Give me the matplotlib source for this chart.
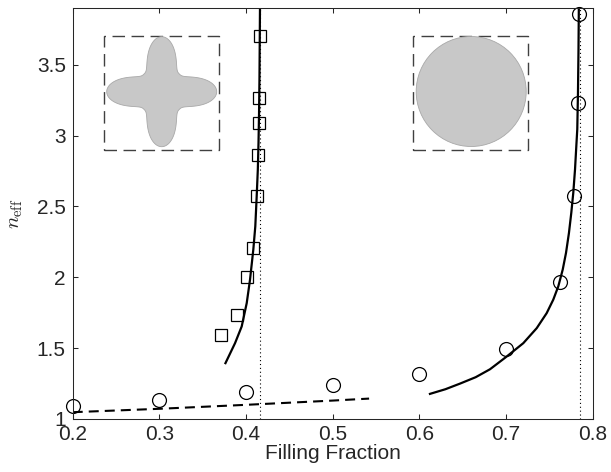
import numpy as np
import matplotlib
matplotlib.use("Agg")
import matplotlib.pyplot as plt
from matplotlib.patches import Rectangle, Circle, Polygon

plt.rcParams['font.family'] = ['Liberation Sans', 'DejaVu Sans']
plt.rcParams['mathtext.fontset'] = 'cm'

# ---------------- data ----------------
sq_x = [0.3707, 0.390, 0.4011, 0.4084, 0.4123, 0.4138, 0.4154, 0.4154, 0.4165]
sq_y = [1.594, 1.731, 2.002, 2.204, 2.572, 2.862, 3.088, 3.268, 3.699]

circ_x = [0.2, 0.3, 0.4, 0.5, 0.6, 0.7, 0.7626, 0.778, 0.7834, 0.7842]
circ_y = [1.092, 1.137, 1.189, 1.238, 1.316, 1.495, 1.967, 2.570, 3.233, 3.857]

left_fit_x = [0.3757, 0.3873, 0.395, 0.4008, 0.4046, 0.4084, 0.4107, 0.4123,
              0.4136, 0.4144, 0.4150, 0.4155, 0.4158, 0.4161]
left_fit_y = [1.387, 1.535, 1.653, 1.818, 1.983, 2.195, 2.360, 2.572,
              2.760, 2.950, 3.150, 3.400, 3.650, 3.900]

right_fit_x = [0.611, 0.630, 0.647, 0.665, 0.6815, 0.7008, 0.7199, 0.7354, 0.7469,
               0.7545, 0.7603, 0.7654, 0.7692, 0.7726, 0.7753, 0.7776, 0.7796,
               0.7811, 0.7822, 0.7830, 0.7836, 0.7840]
right_fit_y = [1.175, 1.210, 1.250, 1.295, 1.351, 1.441, 1.535, 1.641, 1.747,
               1.842, 1.936, 2.054, 2.172, 2.313, 2.455, 2.596, 2.761,
               2.926, 3.044, 3.300, 3.600, 3.900]

dash_x = [0.2, 0.3, 0.4, 0.5, 0.542]
dash_y = [1.048, 1.072, 1.100, 1.130, 1.144]

limit_x = [0.4165, 0.7857]

xticks = [0.2, 0.3, 0.4, 0.5, 0.6, 0.7, 0.8]
xticklabels = ['0.2', '0.3', '0.4', '0.5', '0.6', '0.7', '0.8']
yticks = [1, 1.5, 2, 2.5, 3, 3.5]
yticklabels = ['1', '1.5', '2', '2.5', '3', '3.5']

# ---------------- figure ----------------
W, H = 611, 472
fig = plt.figure(figsize=(W / 100, H / 100), dpi=100)
ax = fig.add_axes([72.7 / W, 1 - 419 / H, 520 / W, 411 / H])

dark = '#262626'

for xv in limit_x:
    ax.plot([xv, xv], [1, 3.9], color='k', lw=0.8, linestyle=(0, (1, 2.5)))

ax.plot(dash_x, dash_y, color='k', lw=1.5, linestyle=(0, (4.8, 2.9)))
ax.plot(left_fit_x, left_fit_y, color='k', lw=1.6, solid_capstyle='butt',
        solid_joinstyle='round')
ax.plot(right_fit_x, right_fit_y, color='k', lw=1.6, solid_capstyle='butt',
        solid_joinstyle='round')

ax.plot(sq_x, sq_y, linestyle='none', marker='s', markersize=8.2,
        markerfacecolor='none', markeredgecolor='k', markeredgewidth=0.9, clip_on=False)
ax.plot(circ_x, circ_y, linestyle='none', marker='o', markersize=10,
        markerfacecolor='none', markeredgecolor='k', markeredgewidth=0.9, clip_on=False)

ax.set_xlim(0.2, 0.8)
ax.set_ylim(1, 3.9)
ax.set_xticks(xticks)
ax.set_xticklabels(xticklabels)
ax.set_yticks(yticks)
ax.set_yticklabels(yticklabels)
ax.tick_params(direction='in', length=3.8, width=0.75, colors=dark,
               labelsize=15, top=True, right=True)
ax.tick_params(axis='x', pad=4)
ax.tick_params(axis='y', pad=5)
for s in ax.spines.values():
    s.set_color(dark)
    s.set_linewidth(0.75)

ax.set_xlabel('Filling Fraction', fontsize=15, color=dark, labelpad=0)
ax.set_ylabel(r'$n_{\mathrm{eff}}$', fontsize=15, color=dark)
ax.yaxis.set_label_coords(-0.092, 0.5)

# ---------------- insets ----------------
gray_fill = '#c8c8c8'
gray_edge = '#a8a8a8'
box_col = '#404040'

def make_inset(left_px):
    iax = fig.add_axes([left_px / W, 1 - 150 / H, 115 / W, 114 / H])
    iax.set_xlim(0, 115)
    iax.set_ylim(0, 114)
    iax.set_facecolor('none')
    iax.axis('off')
    iax.add_patch(Rectangle((0, 0), 115, 114, fill=False, edgecolor=box_col,
                            lw=1.0, linestyle=(0, (9, 4.7)), clip_on=False))
    return iax

iax1 = make_inset(104)
th = np.linspace(0, 2 * np.pi, 721)
r = 25 + 30 * ((1 + np.cos(4 * th)) / 2) ** 1.3
star = np.column_stack([57.7 + r * np.cos(th), 58.3 + r * np.sin(th)])
iax1.add_patch(Polygon(star, closed=True, facecolor=gray_fill, edgecolor=gray_edge, lw=0.6))

iax2 = make_inset(413)
iax2.add_patch(Circle((58.2, 58.5), 55, facecolor=gray_fill, edgecolor=gray_edge, lw=0.6))

fig.savefig('out.png', dpi=100)
